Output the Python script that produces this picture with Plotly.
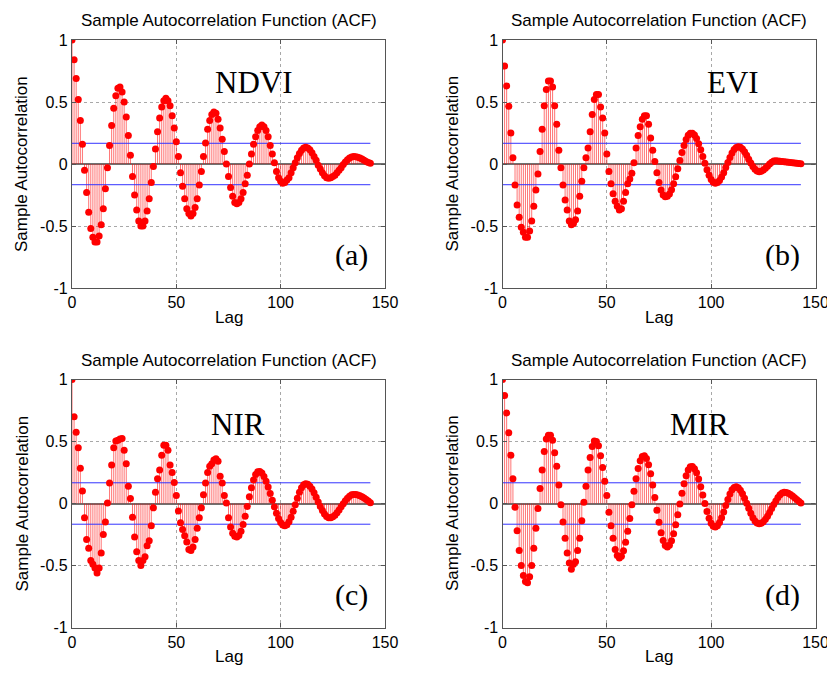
import plotly.graph_objects as go

# ---------------- data ----------------
lags = list(range(144))

ndvi = [1.0, 0.84, 0.69, 0.52, 0.35, 0.16, -0.05, -0.23, -0.39, -0.52,
        -0.59, -0.63, -0.63, -0.58, -0.49, -0.36, -0.20, -0.03, 0.15, 0.31,
        0.45, 0.55, 0.61, 0.62, 0.58, 0.50, 0.38, 0.23, 0.07, -0.10,
        -0.25, -0.37, -0.46, -0.50, -0.50, -0.46, -0.38, -0.28, -0.15, -0.02,
        0.12, 0.26, 0.37, 0.46, 0.51, 0.53, 0.51, 0.47, 0.39, 0.29,
        0.18, 0.06, -0.07, -0.18, -0.28, -0.36, -0.40, -0.42, -0.40, -0.35,
        -0.28, -0.17, -0.06, 0.06, 0.17, 0.28, 0.35, 0.40, 0.42, 0.41,
        0.36, 0.29, 0.20, 0.10, 0.00, -0.10, -0.19, -0.26, -0.31, -0.32,
        -0.31, -0.28, -0.23, -0.16, -0.09, 0.00, 0.08, 0.16, 0.22, 0.27,
        0.30, 0.315, 0.30, 0.27, 0.22, 0.15, 0.08, 0.01, -0.06, -0.11,
        -0.14, -0.156, -0.15, -0.13, -0.11, -0.07, -0.03, 0.01, 0.05, 0.085,
        0.11, 0.13, 0.135, 0.13, 0.115, 0.09, 0.06, 0.03, -0.01, -0.04,
        -0.07, -0.095, -0.11, -0.115, -0.11, -0.10, -0.09, -0.07, -0.05, -0.03,
        -0.005, 0.016, 0.034, 0.048, 0.057, 0.06, 0.058, 0.054, 0.048, 0.040,
        0.030, 0.020, 0.012, 0.006]

evi = [1.0, 0.79, 0.63, 0.465, 0.25, 0.05, -0.17, -0.33, -0.43, -0.51,
       -0.55, -0.59, -0.59, -0.54, -0.46, -0.34, -0.21, -0.08, 0.10, 0.28,
       0.47, 0.60, 0.67, 0.67, 0.62, 0.47, 0.32, 0.11, -0.03, -0.17,
       -0.29, -0.37, -0.46, -0.49, -0.48, -0.45, -0.38, -0.26, -0.14, -0.03,
       0.05, 0.13, 0.26, 0.40, 0.52, 0.56, 0.56, 0.46, 0.37, 0.25,
       0.08, -0.06, -0.16, -0.24, -0.30, -0.34, -0.37, -0.36, -0.30, -0.23,
       -0.16, -0.12, -0.075, 0.01, 0.13, 0.23, 0.30, 0.36, 0.39, 0.39,
       0.32, 0.21, 0.11, 0.02, -0.07, -0.15, -0.21, -0.25, -0.265, -0.26,
       -0.241, -0.207, -0.160, -0.103, -0.038, 0.028, 0.093, 0.150, 0.197, 0.231,
       0.248, 0.248, 0.233, 0.205, 0.164, 0.115, 0.061, 0.006, -0.046, -0.091,
       -0.126, -0.148, -0.156, -0.150, -0.133, -0.105, -0.070, -0.029, 0.013, 0.053,
       0.089, 0.116, 0.134, 0.14, 0.135, 0.121, 0.098, 0.070, 0.039, 0.008,
       -0.020, -0.043, -0.057, -0.062, -0.059, -0.049, -0.035, -0.018, -0.001, 0.014,
       0.024, 0.027, 0.025, 0.022, 0.020, 0.018, 0.016, 0.014, 0.012, 0.010,
       0.008, 0.006, 0.004, 0.002]

nir = [1.0, 0.70, 0.575, 0.45, 0.285, 0.10, -0.115, -0.29, -0.36, -0.46,
       -0.49, -0.52, -0.56, -0.52, -0.40, -0.25, -0.15, 0.005, 0.165, 0.31,
       0.45, 0.505, 0.51, 0.52, 0.525, 0.43, 0.32, 0.14, 0.04, -0.11,
       -0.27, -0.39, -0.46, -0.50, -0.46, -0.43, -0.34, -0.30, -0.18, -0.035,
       0.09, 0.20, 0.27, 0.39, 0.47, 0.47, 0.43, 0.31, 0.25, 0.17,
       0.065, -0.06, -0.155, -0.21, -0.26, -0.31, -0.37, -0.38, -0.35, -0.29,
       -0.20, -0.115, -0.035, 0.07, 0.165, 0.25, 0.30, 0.32, 0.35, 0.36,
       0.34, 0.22, 0.165, 0.065, 0.005, -0.115, -0.19, -0.24, -0.265, -0.27,
       -0.258, -0.224, -0.170, -0.102, -0.025, 0.054, 0.128, 0.189, 0.234, 0.257,
       0.258, 0.245, 0.218, 0.180, 0.134, 0.081, 0.026, -0.028, -0.078, -0.120,
       -0.153, -0.173, -0.18, -0.172, -0.148, -0.110, -0.063, -0.010, 0.043, 0.090,
       0.128, 0.152, 0.16, 0.155, 0.140, 0.116, 0.086, 0.050, 0.013, -0.024,
       -0.057, -0.084, -0.104, -0.114, -0.114, -0.107, -0.094, -0.075, -0.052, -0.027,
       -0.002, 0.022, 0.043, 0.059, 0.070, 0.073, 0.072, 0.068, 0.062, 0.054,
       0.044, 0.032, 0.020, 0.006]

mir = [1.0, 0.87, 0.73, 0.57, 0.39, 0.20, -0.03, -0.22, -0.38, -0.50,
       -0.58, -0.63, -0.64, -0.59, -0.50, -0.36, -0.20, -0.04, 0.12, 0.27,
       0.42, 0.52, 0.55, 0.55, 0.51, 0.41, 0.30, 0.15, -0.01, -0.15,
       -0.28, -0.40, -0.48, -0.53, -0.49, -0.47, -0.38, -0.28, -0.14, 0.01,
       0.14, 0.27, 0.37, 0.46, 0.505, 0.50, 0.465, 0.385, 0.29, 0.18,
       0.065, -0.07, -0.18, -0.28, -0.37, -0.42, -0.44, -0.425, -0.382, -0.313,
       -0.224, -0.120, -0.010, 0.099, 0.199, 0.283, 0.344, 0.380, 0.386, 0.363,
       0.313, 0.240, 0.150, 0.049, -0.054, -0.151, -0.235, -0.299, -0.338, -0.35,
       -0.336, -0.300, -0.244, -0.172, -0.090, -0.004, 0.082, 0.160, 0.224, 0.270,
       0.296, 0.299, 0.281, 0.247, 0.197, 0.136, 0.069, 0.000, -0.064, -0.118,
       -0.159, -0.184, -0.190, -0.179, -0.153, -0.115, -0.068, -0.017, 0.032, 0.076,
       0.110, 0.130, 0.135, 0.127, 0.107, 0.079, 0.043, 0.002, -0.039, -0.079,
       -0.114, -0.141, -0.158, -0.164, -0.160, -0.148, -0.128, -0.103, -0.073, -0.041,
       -0.009, 0.021, 0.048, 0.070, 0.084, 0.091, 0.089, 0.083, 0.073, 0.060,
       0.046, 0.032, 0.018, 0.005]

conf_bound = 0.167
panel_series = [ndvi, evi, nir, mir]
panel_names = ["NDVI", "EVI", "NIR", "MIR"]
panel_tags = ["(a)", "(b)", "(c)", "(d)"]
x_ticks = [0, 50, 100, 150]
y_ticks = [-1, -0.5, 0, 0.5, 1]
chart_title = "Sample Autocorrelation Function (ACF)"
x_title = "Lag"
y_title = "Sample Autocorrelation"

# ---------------- layout geometry ----------------
# The html body has an 8px margin: the figure starts at (8, 8) in the window.
# Width may run to the window edge; height is kept so no scrollbar appears.
PAGE_W, PAGE_H = 835, 675
OFF = 8
W, H = PAGE_W - OFF, PAGE_H - 2 * OFF


def px_x(p):
    return (p - OFF) / W


def px_y(p):
    return 1 - (p - OFF) / H


col_px = [(72, 385), (502.5, 815.5)]
row_px = [(40, 288), (379.5, 627.5)]
name_pos = [(87, 0.655), (110.5, 0.655), (79.5, 0.635), (94.5, 0.64)]
tag_pos = [(134, -0.73), (134, -0.73), (134, -0.74), (134, -0.74)]

fig = go.Figure()
sans = "Liberation Sans, Arial, Helvetica, sans-serif"
serif = "Liberation Serif, Times New Roman, serif"

annotations = []
for i, vals in enumerate(panel_series):
    r, c = divmod(i, 2)
    xa = "x" if i == 0 else f"x{i+1}"
    ya = "y" if i == 0 else f"y{i+1}"
    x0p, x1p = col_px[c]
    y0p, y1p = row_px[r]

    # stems
    sx, sy = [], []
    for l, v in zip(lags, vals):
        sx += [l, l, None]
        sy += [0, v, None]
    fig.add_trace(go.Scatter(x=sx, y=sy, mode="lines",
                             line=dict(color="rgba(255,0,0,0.55)", width=1),
                             hoverinfo="skip", xaxis=xa, yaxis=ya))
    # confidence bounds
    for b in (conf_bound, -conf_bound):
        fig.add_trace(go.Scatter(x=[lags[0], lags[-1]], y=[b, b], mode="lines",
                                 line=dict(color="#3333ff", width=1),
                                 hoverinfo="skip", xaxis=xa, yaxis=ya))
    # markers
    fig.add_trace(go.Scatter(x=lags, y=vals, mode="markers",
                             marker=dict(color="red", size=7, line=dict(width=0)),
                             xaxis=xa, yaxis=ya))

    axis_common = dict(showline=True, linecolor="#555555", linewidth=1.2, mirror="ticks",
                       ticks="inside", ticklen=4, tickcolor="#555555",
                       showgrid=True, gridcolor="#a8a8a8", griddash="dot", gridwidth=1,
                       tickfont=dict(family=sans, size=16, color="black"),
                       ticklabeloverflow="allow",
                       zeroline=False, automargin=False)
    fig.layout[f"xaxis{'' if i == 0 else i+1}"] = dict(
        domain=[px_x(x0p), px_x(x1p)], range=[0, 150], anchor=ya,
        tickvals=x_ticks, ticktext=[str(t) for t in x_ticks], **axis_common)
    ycommon = dict(axis_common)
    ycommon["zeroline"] = True
    ycommon["zerolinecolor"] = "#707070"
    ycommon["zerolinewidth"] = 1.5
    fig.layout[f"yaxis{'' if i == 0 else i+1}"] = dict(
        domain=[px_y(y1p), px_y(y0p)], range=[-1, 1], anchor=xa,
        tickvals=y_ticks, ticktext=[f"{t:g}" for t in y_ticks], **ycommon)

    cx = (x0p + x1p) / 2
    cy = (y0p + y1p) / 2
    annotations.append(dict(text=chart_title, x=px_x(cx), y=px_y(y0p - 19),
                            xref="paper", yref="paper", showarrow=False,
                            xanchor="center", yanchor="middle",
                            font=dict(family=sans, size=17, color="black")))
    annotations.append(dict(text=x_title, x=px_x(cx), y=px_y(y1p + 40.5),
                            xref="paper", yref="paper", showarrow=False,
                            xanchor="center", yanchor="bottom",
                            font=dict(family=sans, size=17, color="black")))
    annotations.append(dict(text=y_title, x=px_x(x0p - 50), y=px_y(cy),
                            xref="paper", yref="paper", showarrow=False, textangle=-90,
                            xanchor="center", yanchor="middle",
                            font=dict(family=sans, size=17, color="black")))
    # panel label and tag (data coordinates)
    annotations.append(dict(text=panel_names[i], x=name_pos[i][0], y=name_pos[i][1],
                            xref=xa, yref=ya, showarrow=False,
                            xanchor="center", yanchor="middle",
                            font=dict(family=serif, size=31, color="black")))
    annotations.append(dict(text=panel_tags[i], x=tag_pos[i][0], y=tag_pos[i][1],
                            xref=xa, yref=ya, showarrow=False,
                            xanchor="center", yanchor="middle",
                            font=dict(family=serif, size=30, color="black")))

fig.update_layout(width=W, height=H, margin=dict(l=0, r=0, t=0, b=0),
                  paper_bgcolor="white", plot_bgcolor="white", showlegend=False,
                  annotations=annotations)

fig.write_html("out.html")
